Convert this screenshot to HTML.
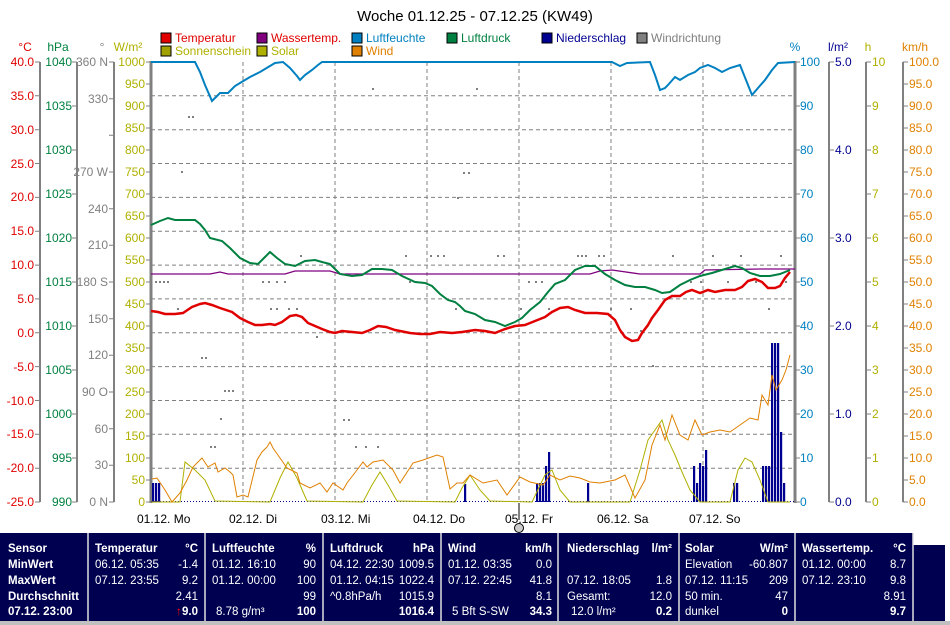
<!DOCTYPE html>
<html><head><meta charset="utf-8"><style>
html,body{margin:0;padding:0;background:#fff;}
svg{display:block;font-family:"Liberation Sans",sans-serif;}
</style></head><body>
<svg width="950" height="625" viewBox="0 0 950 625" xmlns="http://www.w3.org/2000/svg">
<rect width="950" height="625" fill="#fff"/>
<text x="475" y="21" font-size="15" text-anchor="middle" fill="#000">Woche 01.12.25 - 07.12.25 (KW49)</text>
<!-- legend -->
<g font-size="12">
<rect x="161" y="33" width="10" height="10" fill="#e00000" stroke="#000"/><text x="175" y="42" fill="#e00000">Temperatur</text>
<rect x="257" y="33" width="10" height="10" fill="#800080" stroke="#000"/><text x="271" y="42" fill="#e00000">Wassertemp.</text>
<rect x="352" y="33" width="10" height="10" fill="#0080c0" stroke="#000"/><text x="366" y="42" fill="#0080c0">Luftfeuchte</text>
<rect x="447" y="33" width="10" height="10" fill="#008040" stroke="#000"/><text x="461" y="42" fill="#008040">Luftdruck</text>
<rect x="542" y="33" width="10" height="10" fill="#000090" stroke="#000"/><text x="556" y="42" fill="#000090">Niederschlag</text>
<rect x="637" y="33" width="10" height="10" fill="#808080" stroke="#000"/><text x="651" y="42" fill="#808080">Windrichtung</text>
<rect x="161" y="46" width="10" height="10" fill="#a0a000" stroke="#000"/><text x="175" y="55" fill="#b0b000">Sonnenschein</text>
<rect x="257" y="46" width="10" height="10" fill="#b0b000" stroke="#000"/><text x="271" y="55" fill="#b0b000">Solar</text>
<rect x="352" y="46" width="10" height="10" fill="#e08000" stroke="#000"/><text x="366" y="55" fill="#e08000">Wind</text>
</g>
<!-- axis headers -->
<g font-size="12">
<text x="25" y="51" text-anchor="middle" fill="#e00000">°C</text>
<text x="58" y="51" text-anchor="middle" fill="#008040">hPa</text>
<text x="102" y="51" text-anchor="middle" fill="#808080">°</text>
<text x="128" y="51" text-anchor="middle" fill="#b0b000">W/m²</text>
<text x="795" y="51" text-anchor="middle" fill="#0080c0">%</text>
<text x="838" y="51" text-anchor="middle" fill="#000090">l/m²</text>
<text x="868" y="51" text-anchor="middle" fill="#b0b000">h</text>
<text x="915" y="51" text-anchor="middle" fill="#e08000">km/h</text>
</g>
<!-- grid -->
<g stroke="#808080" stroke-width="1" stroke-dasharray="4,3">
<line x1="151" y1="95.8" x2="795" y2="95.8"/><line x1="151" y1="129.7" x2="795" y2="129.7"/><line x1="151" y1="163.5" x2="795" y2="163.5"/><line x1="151" y1="197.4" x2="795" y2="197.4"/><line x1="151" y1="231.2" x2="795" y2="231.2"/><line x1="151" y1="265.1" x2="795" y2="265.1"/><line x1="151" y1="298.9" x2="795" y2="298.9"/><line x1="151" y1="332.8" x2="795" y2="332.8"/><line x1="151" y1="366.6" x2="795" y2="366.6"/><line x1="151" y1="400.5" x2="795" y2="400.5"/><line x1="151" y1="434.3" x2="795" y2="434.3"/><line x1="151" y1="468.2" x2="795" y2="468.2"/>
<line x1="243" y1="62" x2="243" y2="502"/><line x1="335" y1="62" x2="335" y2="502"/><line x1="427" y1="62" x2="427" y2="502"/><line x1="519" y1="62" x2="519" y2="502"/><line x1="611" y1="62" x2="611" y2="502"/><line x1="703" y1="62" x2="703" y2="502"/>
</g>
<!-- axis lines -->
<g stroke="#808080" stroke-width="2">
<line x1="40" y1="62" x2="40" y2="502"/><line x1="77" y1="62" x2="77" y2="502"/><line x1="114" y1="62" x2="114" y2="502"/>
<line x1="151" y1="61" x2="151" y2="503" stroke-width="3"/><line x1="795" y1="61" x2="795" y2="503" stroke-width="3"/>
<line x1="829" y1="62" x2="829" y2="502"/><line x1="866" y1="62" x2="866" y2="502"/><line x1="903" y1="62" x2="903" y2="502"/>
</g>
<!-- ticks -->
<g stroke="#808080" stroke-width="1" fill="none">
<path d="M35 62H40M35 95.8H40M35 129.7H40M35 163.5H40M35 197.4H40M35 231.2H40M35 265.1H40M35 298.9H40M35 332.8H40M35 366.6H40M35 400.5H40M35 434.3H40M35 468.2H40M35 502H40"/>
<path d="M72 62H77M72 106H77M72 150H77M72 194H77M72 238H77M72 282H77M72 326H77M72 370H77M72 414H77M72 458H77M72 502H77"/>
<path d="M109 62H114M109 98.7H114M109 135.3H114M109 172H114M109 208.7H114M109 245.3H114M109 282H114M109 318.7H114M109 355.3H114M109 392H114M109 428.7H114M109 465.3H114M109 502H114"/>
<path d="M146 62H151M146 84H151M146 106H151M146 128H151M146 150H151M146 172H151M146 194H151M146 216H151M146 238H151M146 260H151M146 282H151M146 304H151M146 326H151M146 348H151M146 370H151M146 392H151M146 414H151M146 436H151M146 458H151M146 480H151M146 502H151"/>
<path d="M795 62H800M795 106H800M795 150H800M795 194H800M795 238H800M795 282H800M795 326H800M795 370H800M795 414H800M795 458H800M795 502H800"/>
<path d="M829 62H834M829 150H834M829 238H834M829 326H834M829 414H834M829 502H834"/>
<path d="M866 62H871M866 106H871M866 150H871M866 194H871M866 238H871M866 282H871M866 326H871M866 370H871M866 414H871M866 458H871M866 502H871"/>
<path d="M903 62H908M903 84H908M903 106H908M903 128H908M903 150H908M903 172H908M903 194H908M903 216H908M903 238H908M903 260H908M903 282H908M903 304H908M903 326H908M903 348H908M903 370H908M903 392H908M903 414H908M903 436H908M903 458H908M903 480H908M903 502H908"/>
</g>
<!-- left labels -->
<g font-size="12" fill="#e00000" text-anchor="end">
<text x="34" y="66">40.0</text><text x="34" y="100">35.0</text><text x="34" y="134">30.0</text><text x="34" y="168">25.0</text><text x="34" y="201">20.0</text><text x="34" y="235">15.0</text><text x="34" y="269">10.0</text><text x="34" y="303">5.0</text><text x="34" y="337">0.0</text><text x="34" y="371">-5.0</text><text x="34" y="405">-10.0</text><text x="34" y="438">-15.0</text><text x="34" y="472">-20.0</text><text x="34" y="506">-25.0</text>
</g>
<g font-size="12" fill="#008040" text-anchor="end">
<text x="72" y="66">1040</text><text x="72" y="110">1035</text><text x="72" y="154">1030</text><text x="72" y="198">1025</text><text x="72" y="242">1020</text><text x="72" y="286">1015</text><text x="72" y="330">1010</text><text x="72" y="374">1005</text><text x="72" y="418">1000</text><text x="72" y="462">995</text><text x="72" y="506">990</text>
</g>
<g font-size="12" fill="#808080" text-anchor="end">
<text x="108" y="66">360 N</text><text x="108" y="103">330</text><text x="108" y="176">270 W</text><text x="108" y="213">240</text><text x="108" y="249">210</text><text x="108" y="286">180 S</text><text x="108" y="323">150</text><text x="108" y="359">120</text><text x="108" y="396">90 O</text><text x="108" y="433">60</text><text x="108" y="469">30</text><text x="108" y="506">0 N</text>
</g>
<g font-size="12" fill="#b0b000" text-anchor="end">
<text x="145" y="66">1000</text><text x="145" y="88">950</text><text x="145" y="110">900</text><text x="145" y="132">850</text><text x="145" y="154">800</text><text x="145" y="176">750</text><text x="145" y="198">700</text><text x="145" y="220">650</text><text x="145" y="242">600</text><text x="145" y="264">550</text><text x="145" y="286">500</text><text x="145" y="308">450</text><text x="145" y="330">400</text><text x="145" y="352">350</text><text x="145" y="374">300</text><text x="145" y="396">250</text><text x="145" y="418">200</text><text x="145" y="440">150</text><text x="145" y="462">100</text><text x="145" y="484">50</text><text x="145" y="506">0</text>
</g>
<!-- right labels -->
<g font-size="12" fill="#0080c0">
<text x="800" y="66">100</text><text x="800" y="110">90</text><text x="800" y="154">80</text><text x="800" y="198">70</text><text x="800" y="242">60</text><text x="800" y="286">50</text><text x="800" y="330">40</text><text x="800" y="374">30</text><text x="800" y="418">20</text><text x="800" y="462">10</text><text x="800" y="506">0</text>
</g>
<g font-size="12" fill="#000090">
<text x="835" y="66">5.0</text><text x="835" y="154">4.0</text><text x="835" y="242">3.0</text><text x="835" y="330">2.0</text><text x="835" y="418">1.0</text><text x="835" y="506">0.0</text>
</g>
<g font-size="12" fill="#b0b000">
<text x="872" y="66">10</text><text x="872" y="110">9</text><text x="872" y="154">8</text><text x="872" y="198">7</text><text x="872" y="242">6</text><text x="872" y="286">5</text><text x="872" y="330">4</text><text x="872" y="374">3</text><text x="872" y="418">2</text><text x="872" y="462">1</text><text x="872" y="506">0</text>
</g>
<g font-size="12" fill="#e08000">
<text x="909" y="66">100.0</text><text x="909" y="88">95.0</text><text x="909" y="110">90.0</text><text x="909" y="132">85.0</text><text x="909" y="154">80.0</text><text x="909" y="176">75.0</text><text x="909" y="198">70.0</text><text x="909" y="220">65.0</text><text x="909" y="242">60.0</text><text x="909" y="264">55.0</text><text x="909" y="286">50.0</text><text x="909" y="308">45.0</text><text x="909" y="330">40.0</text><text x="909" y="352">35.0</text><text x="909" y="374">30.0</text><text x="909" y="396">25.0</text><text x="909" y="418">20.0</text><text x="909" y="440">15.0</text><text x="909" y="462">10.0</text><text x="909" y="484">5.0</text><text x="909" y="506">0.0</text>
</g>
<!-- wind direction dots -->
<g fill="#808080">
<rect x="155" y="281" width="2" height="2"/><rect x="159" y="281" width="2" height="2"/><rect x="163" y="281" width="2" height="2"/><rect x="167" y="281" width="2" height="2"/>
<rect x="188" y="116" width="2" height="2"/><rect x="192" y="116" width="2" height="2"/><rect x="181" y="171" width="2" height="2"/><rect x="177" y="308" width="2" height="2"/>
<rect x="201" y="357" width="2" height="2"/><rect x="205" y="357" width="2" height="2"/><rect x="210" y="446" width="2" height="2"/><rect x="214" y="446" width="2" height="2"/><rect x="224" y="390" width="2" height="2"/><rect x="228" y="390" width="2" height="2"/><rect x="232" y="390" width="2" height="2"/><rect x="220" y="418" width="2" height="2"/>
<rect x="262" y="281" width="2" height="2"/><rect x="268" y="281" width="2" height="2"/><rect x="276" y="281" width="2" height="2"/><rect x="284" y="281" width="2" height="2"/><rect x="270" y="308" width="2" height="2"/><rect x="276" y="308" width="2" height="2"/><rect x="288" y="308" width="2" height="2"/><rect x="296" y="308" width="2" height="2"/>
<rect x="300" y="255" width="2" height="2"/><rect x="316" y="336" width="2" height="2"/><rect x="372" y="88" width="2" height="2"/><rect x="343" y="419" width="2" height="2"/><rect x="348" y="419" width="2" height="2"/><rect x="355" y="446" width="2" height="2"/><rect x="365" y="446" width="2" height="2"/><rect x="377" y="446" width="2" height="2"/>
<rect x="405" y="255" width="2" height="2"/><rect x="409" y="281" width="2" height="2"/><rect x="415" y="281" width="2" height="2"/><rect x="430" y="255" width="2" height="2"/><rect x="437" y="255" width="2" height="2"/><rect x="443" y="255" width="2" height="2"/><rect x="457" y="197" width="2" height="2"/><rect x="463" y="172" width="2" height="2"/><rect x="468" y="172" width="2" height="2"/><rect x="476" y="88" width="2" height="2"/><rect x="455" y="308" width="2" height="2"/>
<rect x="497" y="255" width="2" height="2"/><rect x="503" y="255" width="2" height="2"/><rect x="520" y="308" width="2" height="2"/><rect x="528" y="281" width="2" height="2"/><rect x="535" y="281" width="2" height="2"/><rect x="541" y="281" width="2" height="2"/><rect x="548" y="308" width="2" height="2"/>
<rect x="577" y="255" width="2" height="2"/><rect x="581" y="255" width="2" height="2"/><rect x="585" y="255" width="2" height="2"/><rect x="598" y="255" width="2" height="2"/><rect x="603" y="255" width="2" height="2"/><rect x="610" y="308" width="2" height="2"/><rect x="618" y="281" width="2" height="2"/><rect x="630" y="308" width="2" height="2"/><rect x="640" y="330" width="2" height="2"/><rect x="652" y="365" width="2" height="2"/>
<rect x="672" y="255" width="2" height="2"/><rect x="690" y="281" width="2" height="2"/><rect x="700" y="281" width="2" height="2"/><rect x="712" y="255" width="2" height="2"/><rect x="727" y="281" width="2" height="2"/><rect x="740" y="255" width="2" height="2"/><rect x="755" y="281" width="2" height="2"/><rect x="768" y="308" width="2" height="2"/><rect x="780" y="255" width="2" height="2"/><rect x="785" y="281" width="2" height="2"/>
</g>
<!-- precipitation bars -->
<g fill="#000090">
<rect x="152" y="483" width="2.2" height="19"/><rect x="155" y="483" width="2.2" height="19"/><rect x="158" y="483" width="2.2" height="19"/>
<rect x="464" y="484" width="2.2" height="18"/>
<rect x="536" y="483" width="2.2" height="19"/><rect x="539" y="483" width="2.2" height="19"/><rect x="542" y="483" width="2.2" height="19"/><rect x="545" y="466" width="2.2" height="36"/><rect x="548" y="452" width="2.2" height="50"/>
<rect x="587" y="483" width="2.2" height="19"/>
<rect x="693" y="466" width="2.2" height="36"/><rect x="696" y="483" width="2.2" height="19"/><rect x="699" y="463" width="2.2" height="39"/><rect x="702" y="466" width="2.2" height="36"/><rect x="705" y="450" width="2.2" height="52"/>
<rect x="733" y="483" width="2.2" height="19"/><rect x="736" y="483" width="2.2" height="19"/>
<rect x="762" y="466" width="2.2" height="36"/><rect x="765" y="466" width="2.2" height="36"/><rect x="768" y="466" width="2.2" height="36"/><rect x="771" y="343" width="2.2" height="159"/><rect x="774" y="343" width="2.2" height="159"/><rect x="777" y="343" width="2.2" height="159"/><rect x="780" y="432" width="2.2" height="70"/><rect x="783" y="483" width="2.2" height="19"/>
</g>
<line x1="151" y1="501.5" x2="795" y2="501.5" stroke="#000090" stroke-width="1" stroke-dasharray="1,2"/>
<!-- solar -->
<polyline fill="none" stroke="#b0b000" stroke-width="1" points="151,502 180,502 185,462 195,470 205,480 215,501 270,502 280,478 288,462 297,478 307,501 363,502 372,485 380,472 388,485 397,501 455,502 462,488 470,475 480,490 490,501 532,502 545,475 552,470 560,490 570,502 630,502 640,470 648,440 655,430 662,420 668,440 675,455 682,472 690,490 700,502 730,502 738,470 745,458 752,462 760,480 768,502 790,502"/>
<!-- wind -->
<polyline fill="none" stroke="#e08000" stroke-width="1" points="152,479 157,478 165,490 172,502 180,493 187,480 193,467 202,458 208,467 215,463 218,472 225,468 230,472 233,475 237,497 243,495 248,497 257,460 262,452 267,447 270,442 273,448 280,458 287,468 297,473 300,483 310,488 320,483 327,492 333,483 343,490 347,483 357,470 363,462 367,467 373,462 383,460 393,470 400,483 413,463 423,460 437,455 443,457 450,489 457,483 463,483 470,475 483,483 497,480 507,495 520,477 530,482 543,485 550,475 560,480 570,476 580,478 590,482 600,483 615,480 625,475 635,498 645,480 652,445 660,425 665,440 672,415 680,435 688,440 695,420 702,435 710,432 720,430 730,432 740,425 750,418 758,420 762,395 768,405 772,375 776,390 782,380 786,370 790,355"/>
<!-- humidity -->
<polyline fill="none" stroke="#0080c0" stroke-width="2" points="151,62 195,62 200,72 205,85 212,101 220,93 228,93 235,86 240,83 250,77 260,72 265,69 275,63 283,62 290,68 297,76 300,80 305,75 312,70 318,65 322,62 612,62 620,66 627,63 650,62 655,75 660,90 665,88 668,85 675,77 680,80 688,75 695,72 700,68 708,65 715,68 722,72 730,68 740,65 746,80 752,95 758,88 765,80 772,70 778,63 795,62"/>
<!-- water temp -->
<polyline fill="none" stroke="#800080" stroke-width="1.3" points="151,274 210,274 220,272 228,274 285,274 295,271 330,271 340,274 400,274 410,274 590,274 600,271 612,270 640,274 700,274 705,270 760,269 795,269"/>
<!-- pressure -->
<polyline fill="none" stroke="#008040" stroke-width="2" points="151,225 160,221 168,218 175,220 195,220 200,224 205,230 210,238 222,241 230,248 240,258 250,263 258,264 265,257 270,252 277,258 285,264 295,266 305,261 315,260 322,262 330,264 335,269 340,274 352,276 362,275 372,269 382,269 392,270 402,276 415,282 425,283 432,286 440,294 448,300 455,302 460,306 465,311 475,314 485,320 495,322 505,326 515,322 522,318 530,310 540,302 548,292 555,284 565,280 575,270 585,266 595,266 605,274 615,280 625,285 635,287 645,287 655,290 662,293 670,292 680,285 690,280 700,276 712,273 725,269 735,266 742,268 750,273 760,276 770,276 780,274 790,270"/>
<!-- temperature -->
<polyline fill="none" stroke="#e00000" stroke-width="2.5" points="151,311 158,312 165,314 175,314 183,313 186,311 192,307 200,304 205,303 212,305 220,308 232,312 240,318 248,322 255,325 262,325 270,324 275,325 282,322 290,316 296,315 302,317 308,323 315,326 322,329 330,332 335,333 342,331 352,332 362,333 370,330 378,326 386,327 395,330 410,333 420,334 430,334 440,332 452,333 462,332 475,330 485,331 495,333 505,329 515,326 525,325 535,321 545,317 552,312 560,308 568,307 575,310 585,313 597,313 608,314 615,320 620,330 625,337 632,341 638,340 642,333 648,325 652,318 658,310 665,300 672,296 680,296 686,292 692,290 700,293 708,290 715,292 725,290 735,290 742,287 748,281 755,279 762,282 768,288 775,288 780,286 785,278 790,272"/>
<!-- date labels -->
<g font-size="12" fill="#000">
<text x="137" y="523">01.12.  Mo</text><text x="229" y="523">02.12.  Di</text><text x="321" y="523">03.12.  Mi</text><text x="413" y="523">04.12.  Do</text><text x="505" y="523">05.12.  Fr</text><text x="597" y="523">06.12.  Sa</text><text x="689" y="523">07.12.  So</text>
</g>
<line x1="519" y1="503" x2="519" y2="520" stroke="#000"/>
<circle cx="519" cy="528" r="4.5" fill="#ccc" stroke="#000"/>
<!-- table -->
<rect x="0" y="533" width="913" height="88" fill="#000050"/>
<rect x="913" y="545" width="32" height="76" fill="#000050"/>
<rect x="0" y="621" width="950" height="4" fill="#c0c0c0"/>
<g stroke="#e0e0e0" stroke-width="1.5">
<line x1="88" y1="533" x2="88" y2="621"/><line x1="205" y1="533" x2="205" y2="621"/><line x1="323" y1="533" x2="323" y2="621"/><line x1="441" y1="533" x2="441" y2="621"/><line x1="558" y1="533" x2="558" y2="621"/><line x1="679" y1="533" x2="679" y2="621"/><line x1="795" y1="533" x2="795" y2="621"/><line x1="913" y1="533" x2="913" y2="621"/>
</g>
<g font-size="11.5" fill="#fff">
<g font-weight="bold">
<text x="8" y="552">Sensor</text><text x="8" y="568">MinWert</text><text x="8" y="584">MaxWert</text><text x="8" y="600">Durchschnitt</text><text x="8" y="615">07.12. 23:00</text>
<text x="95" y="552">Temperatur</text><text x="198" y="552" text-anchor="end">°C</text>
<text x="212" y="552">Luftfeuchte</text><text x="316" y="552" text-anchor="end">%</text>
<text x="330" y="552">Luftdruck</text><text x="434" y="552" text-anchor="end">hPa</text>
<text x="448" y="552">Wind</text><text x="552" y="552" text-anchor="end">km/h</text>
<text x="567" y="552">Niederschlag</text><text x="672" y="552" text-anchor="end">l/m²</text>
<text x="685" y="552">Solar</text><text x="788" y="552" text-anchor="end">W/m²</text>
<text x="802" y="552">Wassertemp.</text><text x="906" y="552" text-anchor="end">°C</text>
<text x="198" y="615" text-anchor="end">9.0</text><text x="316" y="615" text-anchor="end">100</text><text x="434" y="615" text-anchor="end">1016.4</text><text x="552" y="615" text-anchor="end">34.3</text><text x="672" y="615" text-anchor="end">0.2</text><text x="788" y="615" text-anchor="end">0</text><text x="906" y="615" text-anchor="end">9.7</text>
</g>
<text x="176" y="615" fill="#ff0000" font-weight="bold">↑</text>
<text x="95" y="568">06.12.  05:35</text><text x="198" y="568" text-anchor="end">-1.4</text>
<text x="95" y="584">07.12.  23:55</text><text x="198" y="584" text-anchor="end">9.2</text>
<text x="198" y="600" text-anchor="end">2.41</text>
<text x="212" y="568">01.12.  16:10</text><text x="316" y="568" text-anchor="end">90</text>
<text x="212" y="584">01.12.  00:00</text><text x="316" y="584" text-anchor="end">100</text>
<text x="316" y="600" text-anchor="end">99</text><text x="216" y="615">8.78 g/m³</text>
<text x="330" y="568">04.12.  22:30</text><text x="434" y="568" text-anchor="end">1009.5</text>
<text x="330" y="584">01.12.  04:15</text><text x="434" y="584" text-anchor="end">1022.4</text>
<text x="330" y="600">^0.8hPa/h</text><text x="434" y="600" text-anchor="end">1015.9</text>
<text x="448" y="568">01.12.  03:35</text><text x="552" y="568" text-anchor="end">0.0</text>
<text x="448" y="584">07.12.  22:45</text><text x="552" y="584" text-anchor="end">41.8</text>
<text x="552" y="600" text-anchor="end">8.1</text><text x="452" y="615">5 Bft S-SW</text>
<text x="567" y="584">07.12.  18:05</text><text x="672" y="584" text-anchor="end">1.8</text>
<text x="567" y="600">Gesamt:</text><text x="672" y="600" text-anchor="end">12.0</text>
<text x="571" y="615">12.0 l/m²</text>
<text x="685" y="568">Elevation</text><text x="788" y="568" text-anchor="end">-60.807</text>
<text x="685" y="584">07.12.  11:15</text><text x="788" y="584" text-anchor="end">209</text>
<text x="685" y="600">50 min.</text><text x="788" y="600" text-anchor="end">47</text>
<text x="685" y="615">dunkel</text>
<text x="802" y="568">01.12.  00:00</text><text x="906" y="568" text-anchor="end">8.7</text>
<text x="802" y="584">07.12.  23:10</text><text x="906" y="584" text-anchor="end">9.8</text>
<text x="906" y="600" text-anchor="end">8.91</text>
</g>
</svg>
</body></html>
